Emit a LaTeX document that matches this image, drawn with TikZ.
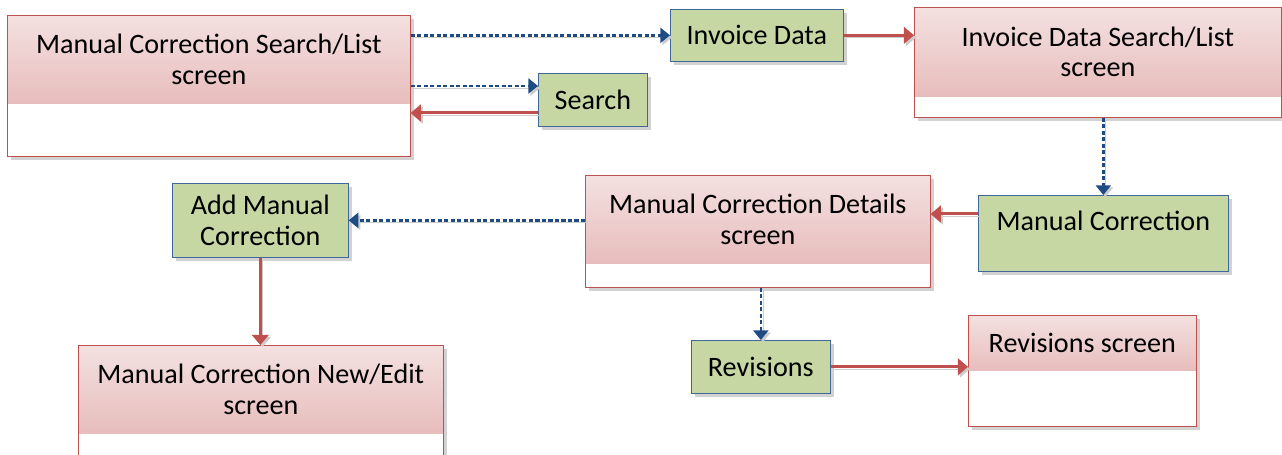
\documentclass[tikz,border=0pt]{standalone}
\usepackage{fontspec}
\setmainfont{Carlito}
\usetikzlibrary{arrows.meta,shadows,positioning}

\definecolor{scrred}{HTML}{C0504D}
\definecolor{pinktop}{HTML}{F3E1E0}
\definecolor{pinkbot}{HTML}{E7BDBC}
\definecolor{actgreen}{HTML}{C7D7A4}
\definecolor{actblue}{HTML}{41669A}
\definecolor{linkblue}{HTML}{1F4B85}

\tikzset{
  screen/.style={draw=scrred, fill=white, inner sep=0pt, anchor=north west,
    drop shadow={shadow xshift=2pt, shadow yshift=-2pt, fill=black!35}},
  head/.style={inner sep=0pt, anchor=north west, align=center,
    top color=pinktop, bottom color=pinkbot, font=\fontsize{16}{17.5}\selectfont},
  action/.style={draw=actblue, fill=actgreen, inner sep=0pt, anchor=north west,
    align=center, font=\fontsize{16}{17.5}\selectfont,
    drop shadow={shadow xshift=2pt, shadow yshift=-2pt, fill=black!35}},
  opens/.style={draw=linkblue, line width=1.4pt, dash pattern=on 2.4pt off 1.3pt,
    -{Triangle[length=5.5pt,width=8.5pt]},
    preaction={draw=black!20, transform canvas={shift={(1.2pt,-1.2pt)}}}},
  returns/.style={draw=scrred, line width=1.7pt,
    -{Triangle[length=5.8pt,width=9.5pt]},
    preaction={draw=black!20, transform canvas={shift={(1.2pt,-1.2pt)}}}}
}

\begin{document}
\begin{tikzpicture}[x=0.02cm,y=-0.02cm]

  \useasboundingbox (0,0) rectangle (1282,455);
  \clip (0,0) rectangle (1282,455);

  % screens
  \node[screen, minimum width=8.06cm, minimum height=2.82cm] (mcsl) at (7,15) {};
  \node[head, minimum width=8.06cm, minimum height=1.76cm] (mcslhead) at (mcsl.north west)
    {Manual Correction Search/List\\screen};

  \node[screen, minimum width=7.34cm, minimum height=2.2cm] (idsl) at (914,7) {};
  \node[head, minimum width=7.34cm, minimum height=1.78cm] (idslhead) at (idsl.north west)
    {Invoice Data Search/List\\screen};

  \node[screen, minimum width=6.9cm, minimum height=2.24cm] (mcd) at (585,175) {};
  \node[head, minimum width=6.9cm, minimum height=1.76cm] (mcdhead) at (mcd.north west)
    {Manual Correction Details\\screen};

  \node[screen, minimum width=7.3cm, minimum height=2.8cm] (mcne) at (78,345) {};
  \node[head, minimum width=7.3cm, minimum height=1.76cm] (mcnehead) at (mcne.north west)
    {Manual Correction New/Edit\\screen};

  \node[screen, minimum width=4.56cm, minimum height=2.22cm] (rvs) at (968,315) {};
  \node[head, minimum width=4.56cm, minimum height=1.1cm] (rvshead) at (rvs.north west)
    {Revisions screen};

  \foreach \b in {mcsl,idsl,mcd,mcne,rvs} {
    \draw[scrred] (\b.north west) rectangle (\b.south east);
  }

  % actions
  \node[action, minimum width=3.46cm, minimum height=1.04cm] (invdata) at (670,9) {Invoice Data};
  \node[action, minimum width=2.18cm, minimum height=1.06cm] (search) at (538,73) {Search};
  \node[action, minimum width=5.0cm, minimum height=1.52cm, text depth=0.5cm] (mancorr) at (978,195) {Manual Correction};
  \node[action, minimum width=3.52cm, minimum height=1.48cm] (addmc) at (172,183) {Add Manual\\Correction};
  \node[action, minimum width=2.78cm, minimum height=1.06cm] (revs) at (691,340) {Revisions};

  \coordinate (sin) at ([yshift=-0.26cm]search.north west);
  \coordinate (sout) at ([yshift=-0.8cm]search.north west);
  \coordinate (mcin) at ([yshift=-0.38cm]mancorr.north west);

  % links
  \draw[opens] (mcsl.east |- invdata.west) -- (invdata.west);
  \draw[opens] (mcsl.east |- sin) -- (sin);
  \draw[returns] (sout) -- (mcsl.east |- sout);
  \draw[returns] (invdata.east) -- (idsl.west |- invdata.east);
  \draw[opens] (idsl.south -| mancorr.north) -- (mancorr.north);
  \draw[returns] (mcin) -- (mcd.east |- mcin);
  \draw[opens] (mcd.west |- addmc.east) -- (addmc.east);
  \draw[returns] (addmc.south) -- (addmc.south |- mcne.north);
  \draw[opens] (mcd.south -| revs.north) -- (revs.north);
  \draw[returns] (revs.east) -- (rvs.west |- revs.east);

\end{tikzpicture}
\end{document}
